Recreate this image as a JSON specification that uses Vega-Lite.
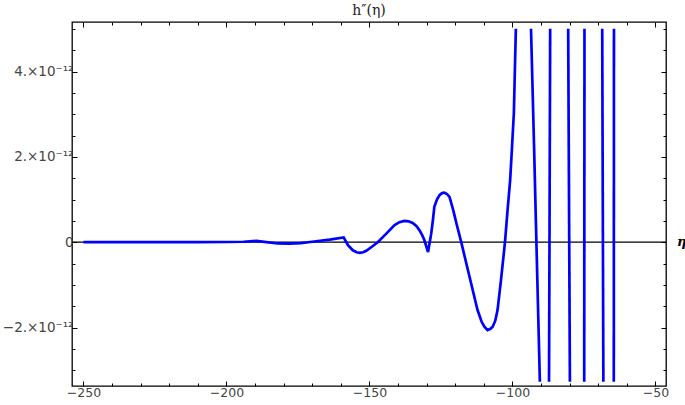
{
  "$schema": "https://vega.github.io/schema/vega-lite/v6.json",
  "width": 594,
  "height": 364,
  "autosize": {"type": "none"},
  "padding": {"left": 72, "top": 22, "right": 19, "bottom": 19},
  "background": "white",
  "config": {
    "view": {"stroke": "#000", "strokeWidth": 1.3},
    "axis": {"domain": false, "grid": false, "tickColor": "#000", "tickWidth": 1, "labelFont": "DejaVu Sans", "labelFontSize": 12.5, "labelColor": "#444", "title": null}
  },
  "title": {"text": "h″(η)", "font": "DejaVu Serif", "fontSize": 14, "fontWeight": "normal", "offset": 4, "color": "#222"},
  "datasets": {
    "curve": [
      {"seg": "a", "eta": -250, "h": 0},
      {"seg": "a", "eta": -240, "h": 0},
      {"seg": "a", "eta": -230, "h": 0},
      {"seg": "a", "eta": -220, "h": 0},
      {"seg": "a", "eta": -210, "h": 0},
      {"seg": "a", "eta": -200, "h": 0.005e-12},
      {"seg": "a", "eta": -194, "h": 0.01e-12},
      {"seg": "a", "eta": -189.5, "h": 0.03e-12},
      {"seg": "a", "eta": -186, "h": 0.0},
      {"seg": "a", "eta": -182, "h": -0.03e-12},
      {"seg": "a", "eta": -178, "h": -0.035e-12},
      {"seg": "a", "eta": -174, "h": -0.02e-12},
      {"seg": "a", "eta": -170, "h": 0.01e-12},
      {"seg": "a", "eta": -163.9, "h": 0.06e-12},
      {"seg": "a", "eta": -159.0, "h": 0.11e-12},
      {"seg": "a", "eta": -157.5, "h": -0.07e-12},
      {"seg": "a", "eta": -155.8, "h": -0.19e-12},
      {"seg": "a", "eta": -154.5, "h": -0.235e-12},
      {"seg": "a", "eta": -153.4, "h": -0.25e-12},
      {"seg": "a", "eta": -152.2, "h": -0.235e-12},
      {"seg": "a", "eta": -151.1, "h": -0.20e-12},
      {"seg": "a", "eta": -148.8, "h": -0.09e-12},
      {"seg": "a", "eta": -147.1, "h": 0.0},
      {"seg": "a", "eta": -144.1, "h": 0.20e-12},
      {"seg": "a", "eta": -141.2, "h": 0.40e-12},
      {"seg": "a", "eta": -139.5, "h": 0.47e-12},
      {"seg": "a", "eta": -137.8, "h": 0.50e-12},
      {"seg": "a", "eta": -136.3, "h": 0.49e-12},
      {"seg": "a", "eta": -134.9, "h": 0.45e-12},
      {"seg": "a", "eta": -133.6, "h": 0.38e-12},
      {"seg": "a", "eta": -132.5, "h": 0.28e-12},
      {"seg": "a", "eta": -131.6, "h": 0.17e-12},
      {"seg": "a", "eta": -130.8, "h": 0.05e-12},
      {"seg": "a", "eta": -129.5, "h": -0.23e-12},
      {"seg": "a", "eta": -128.4, "h": 0.20e-12},
      {"seg": "a", "eta": -127.8, "h": 0.52e-12},
      {"seg": "a", "eta": -127.3, "h": 0.83e-12},
      {"seg": "a", "eta": -126.4, "h": 1.00e-12},
      {"seg": "a", "eta": -125.5, "h": 1.10e-12},
      {"seg": "a", "eta": -124.6, "h": 1.15e-12},
      {"seg": "a", "eta": -123.8, "h": 1.16e-12},
      {"seg": "a", "eta": -122.9, "h": 1.13e-12},
      {"seg": "a", "eta": -122.0, "h": 1.06e-12},
      {"seg": "a", "eta": -120.7, "h": 0.75e-12},
      {"seg": "a", "eta": -119.5, "h": 0.42e-12},
      {"seg": "a", "eta": -117.9, "h": 0.0},
      {"seg": "a", "eta": -115.0, "h": -0.81e-12},
      {"seg": "a", "eta": -112.2, "h": -1.59e-12},
      {"seg": "a", "eta": -110.8, "h": -1.86e-12},
      {"seg": "a", "eta": -109.8, "h": -1.98e-12},
      {"seg": "a", "eta": -108.7, "h": -2.06e-12},
      {"seg": "a", "eta": -107.7, "h": -2.03e-12},
      {"seg": "a", "eta": -106.9, "h": -1.98e-12},
      {"seg": "a", "eta": -106.0, "h": -1.84e-12},
      {"seg": "a", "eta": -105.2, "h": -1.59e-12},
      {"seg": "a", "eta": -104.0, "h": -0.89e-12},
      {"seg": "a", "eta": -102.6, "h": 0.0},
      {"seg": "a", "eta": -101.7, "h": 0.75e-12},
      {"seg": "a", "eta": -100.8, "h": 1.45e-12},
      {"seg": "a", "eta": -100.2, "h": 2.16e-12},
      {"seg": "a", "eta": -99.5, "h": 3.02e-12},
      {"seg": "a", "eta": -98.8, "h": 5.0e-12},
      {"seg": "b", "eta": -93.5, "h": 5.0e-12},
      {"seg": "b", "eta": -92.4, "h": 2.16e-12},
      {"seg": "b", "eta": -91.8, "h": 0.5e-12},
      {"seg": "b", "eta": -90.4, "h": -3.27e-12},
      {"seg": "c", "eta": -87.2, "h": -3.27e-12},
      {"seg": "c", "eta": -86.8, "h": 5.0e-12},
      {"seg": "d", "eta": -80.5, "h": 5.0e-12},
      {"seg": "d", "eta": -79.9, "h": -3.27e-12},
      {"seg": "e", "eta": -74.9, "h": -3.27e-12},
      {"seg": "e", "eta": -74.8, "h": 5.0e-12},
      {"seg": "f", "eta": -68.6, "h": 5.0e-12},
      {"seg": "f", "eta": -68.2, "h": -3.27e-12},
      {"seg": "g", "eta": -64.55, "h": -3.27e-12},
      {"seg": "g", "eta": -64.5, "h": 5.0e-12}
    ]
  },
  "layer": [
    {
      "data": {"name": "curve"},
      "mark": {"type": "point", "opacity": 0},
      "encoding": {
        "x": {"field": "eta", "type": "quantitative", "scale": {"domain": [-254, -46.3], "nice": false, "zero": false},
          "axis": {"orient": "bottom", "values": [-240,-230,-220,-210,-190,-180,-170,-160,-140,-130,-120,-110,-90,-80,-70,-60], "tickSize": -3, "labels": false}},
        "y": {"field": "h", "type": "quantitative", "scale": {"domain": [-3.37e-12, 5.16e-12], "nice": false, "zero": false},
          "axis": {"orient": "left", "values": [-3e-12,-2.5e-12,-1.5e-12,-1e-12,-0.5e-12,0.5e-12,1e-12,1.5e-12,2.5e-12,3e-12,3.5e-12,4.5e-12,5e-12], "tickSize": -3, "labels": false}}
      }
    },
    {
      "data": {"name": "curve"},
      "mark": {"type": "point", "opacity": 0},
      "encoding": {
        "x": {"field": "eta", "type": "quantitative", "scale": {"domain": [-254, -46.3], "nice": false, "zero": false},
          "axis": {"orient": "top", "values": [-250,-200,-150,-100,-50], "tickSize": -5, "labels": false}},
        "y": {"field": "h", "type": "quantitative", "scale": {"domain": [-3.37e-12, 5.16e-12], "nice": false, "zero": false},
          "axis": {"orient": "right", "values": [-2e-12,0,2e-12,4e-12], "tickSize": -5, "labels": false}}
      }
    },
    {
      "data": {"name": "curve"},
      "mark": {"type": "point", "opacity": 0},
      "encoding": {
        "x": {"field": "eta", "type": "quantitative", "scale": {"domain": [-254, -46.3], "nice": false, "zero": false},
          "axis": {"orient": "top", "values": [-240,-230,-220,-210,-190,-180,-170,-160,-140,-130,-120,-110,-90,-80,-70,-60], "tickSize": -3, "labels": false}},
        "y": {"field": "h", "type": "quantitative", "scale": {"domain": [-3.37e-12, 5.16e-12], "nice": false, "zero": false},
          "axis": {"orient": "right", "values": [-3e-12,-2.5e-12,-1.5e-12,-1e-12,-0.5e-12,0.5e-12,1e-12,1.5e-12,2.5e-12,3e-12,3.5e-12,4.5e-12,5e-12], "tickSize": -3, "labels": false}}
      }
    },
    {
      "data": {"values": [{"zero": 0}]},
      "mark": {"type": "rule", "color": "#000", "strokeWidth": 1.3},
      "encoding": {"y": {"field": "zero", "type": "quantitative", "axis": null}}
    },
    {
      "data": {"name": "curve"},
      "mark": {"type": "line", "color": "#0000ff", "strokeWidth": 2.7, "clip": true},
      "encoding": {
        "x": {"field": "eta", "type": "quantitative", "scale": {"domain": [-254, -46.3], "nice": false, "zero": false},
          "axis": {"orient": "bottom", "values": [-250,-200,-150,-100,-50], "tickSize": -5, "labelPadding": 5, "format": "d"}},
        "y": {"field": "h", "type": "quantitative", "scale": {"domain": [-3.37e-12, 5.16e-12], "nice": false, "zero": false},
          "axis": {"orient": "left", "values": [-2e-12,0,2e-12,4e-12], "tickSize": -5, "labelPadding": 4, "labelFont": "DejaVu Sans", "labelFontSize": 13.5,
            "labelExpr": "datum.value == 0 ? '0' : format(round(datum.value * 1e12), 'd') + '.×10⁻¹²'"}},
        "detail": {"field": "seg"}
      }
    },
    {
      "data": {"values": [{"eta": -46.3, "zero": 0, "lab": "η"}]},
      "mark": {"type": "text", "font": "DejaVu Serif", "fontStyle": "italic", "fontWeight": "bold", "fontSize": 13, "align": "left", "baseline": "middle", "dx": 11, "color": "#000"},
      "encoding": {
        "x": {"field": "eta", "type": "quantitative", "axis": null},
        "y": {"field": "zero", "type": "quantitative", "axis": null},
        "text": {"field": "lab"}
      }
    }
  ],
  "resolve": {"axis": {"x": "independent", "y": "independent"}}
}
